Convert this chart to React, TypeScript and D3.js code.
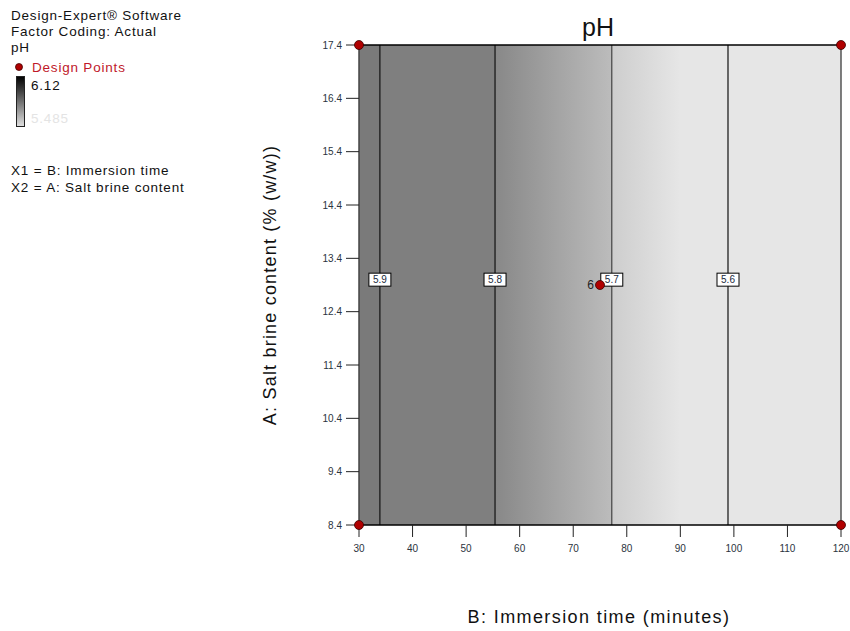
import React from "react";
import * as d3 from "d3";

const xTicks = [30, 40, 50, 60, 70, 80, 90, 100, 110, 120];
const yTicks = [8.4, 9.4, 10.4, 11.4, 12.4, 13.4, 14.4, 15.4, 16.4, 17.4];
const contourLevels = ["5.9", "5.8", "5.7", "5.6"];
const contourX = [33.9, 55.4, 77.2, 98.9];
const contourLabelY = 13.0;
const pointsX = [30, 30, 120, 120, 75];
const pointsY = [8.4, 17.4, 8.4, 17.4, 12.9];
const pointLabels = ["", "", "", "", "6"];
// shading along x (immersion time) -> gray value
const shadeX = [30, 33.9, 33.9, 55.4, 55.4, 77.2, 77.2, 90, 120];
const shadeGray = [122, 122, 127, 127, 136, 188, 205, 230, 230];

const W = 850, H = 631;
const L = 359, R = 841, T = 45, B = 525;

export default function App() {
  const x = d3.scaleLinear().domain([30, 120]).range([L, R]);
  const y = d3.scaleLinear().domain([8.4, 17.4]).range([B, T]);
  const font = "Arial, 'Liberation Sans', sans-serif";
  const tickColor = "#2b3440";
  return (
    <svg width={W} height={H} style={{ position: "absolute", left: 0, top: 0, background: "#fff" }} fontFamily={font}>
      <defs>
        <linearGradient id="shade" gradientUnits="userSpaceOnUse" x1={x(30)} x2={x(120)} y1={0} y2={0}>
          {shadeX.map((v, i) => (
            <stop key={i} offset={(v - 30) / 90} stopColor={d3.rgb(shadeGray[i], shadeGray[i], shadeGray[i]).toString()} />
          ))}
        </linearGradient>
        <linearGradient id="bar" x1="0" x2="0" y1="0" y2="1">
          <stop offset="0" stopColor="#000" />
          <stop offset="1" stopColor="#e0e0e0" />
        </linearGradient>
      </defs>

      {/* legend */}
      <g fontSize={13.5} fill="#111" letterSpacing={0.8}>
        <text x={11} y={20}>Design-Expert® Software</text>
        <text x={11} y={36}>Factor Coding: Actual</text>
        <text x={11} y={52}>pH</text>
        <circle cx={19} cy={67} r={3.5} fill="#b00000" stroke="#400" strokeWidth={0.8} />
        <text x={32} y={72} fill="#c0182a">Design Points</text>
        <rect x={16.5} y={76.5} width={8} height={50} fill="url(#bar)" stroke="#222" strokeWidth={1} />
        <text x={31} y={90}>6.12</text>
        <text x={31} y={123} fill="#e4e4e4">5.485</text>
        <text x={11} y={175}>X1 = B: Immersion time</text>
        <text x={11} y={192}>X2 = A: Salt brine content</text>
      </g>

      {/* plot area */}
      <rect x={L} y={T} width={R - L} height={B - T} fill="url(#shade)" />
      {contourX.map((cx, i) => (
        <line key={i} x1={x(cx)} x2={x(cx)} y1={T} y2={B} stroke={i === 2 ? "#444" : "#111"} strokeWidth={1.2} />
      ))}
      <line x1={L} x2={L} y1={T} y2={B} stroke="#444" strokeWidth={1.5} />
      <line x1={R} x2={R} y1={T} y2={B} stroke="#555" strokeWidth={1.5} />
      <line x1={L} x2={R} y1={T} y2={T} stroke="#000" strokeWidth={1.5} />
      <line x1={L} x2={R} y1={B} y2={B} stroke="#000" strokeWidth={1.5} />

      {contourX.map((cx, i) => (
        <g key={i} transform={`translate(${x(cx)},${y(contourLabelY)})`}>
          <rect x={-11} y={-6.5} width={22} height={13} fill="#fff" stroke="#000" strokeWidth={1} />
          <text x={0} y={3.5} textAnchor="middle" fontSize={10} fill="#1a2a40">{contourLevels[i]}</text>
        </g>
      ))}

      {/* axes */}
      {yTicks.map((t, i) => (
        <g key={i}>
          <line x1={L - 13} x2={L} y1={y(t)} y2={y(t)} stroke="#222" strokeWidth={1} />
          <text x={L - 17} y={y(t) + 3.5} textAnchor="end" fontSize={10} fill={tickColor}>{t.toFixed(1)}</text>
        </g>
      ))}
      {xTicks.map((t, i) => (
        <g key={i}>
          <line x1={x(t)} x2={x(t)} y1={B} y2={B + 12} stroke="#222" strokeWidth={1} />
          <text x={x(t)} y={B + 27} textAnchor="middle" fontSize={10} fill={tickColor}>{t}</text>
        </g>
      ))}

      {pointsX.map((px, i) => (
        <g key={i}>
          <circle cx={x(px)} cy={y(pointsY[i])} r={4.5} fill="#b00000" stroke="#3a0000" strokeWidth={0.8} />
          {pointLabels[i] && (
            <text x={x(px) - 6} y={y(pointsY[i]) + 4} textAnchor="end" fontSize={12} fill="#222">{pointLabels[i]}</text>
          )}
        </g>
      ))}

      <text x={598} y={36} textAnchor="middle" fontSize={25} fill="#111">pH</text>
      <text x={599} y={623} textAnchor="middle" fontSize={18} letterSpacing={1.4} fill="#111">B: Immersion time (minutes)</text>
      <text transform={`translate(276,285) rotate(-90)`} textAnchor="middle" fontSize={18} letterSpacing={1.2} fill="#111">A: Salt brine content (% (w/w))</text>
    </svg>
  );
}
